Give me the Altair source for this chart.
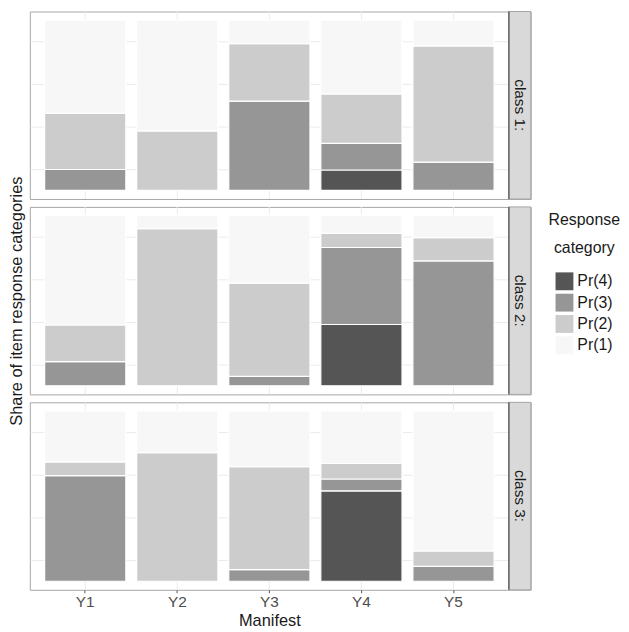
import altair as alt
import pandas as pd

items = ["Y1", "Y2", "Y3", "Y4", "Y5"]
classes = ["class 1:", "class 2:", "class 3:"]
categories = ["Pr(4)", "Pr(3)", "Pr(2)", "Pr(1)"]
colors = ["#555555", "#969696", "#cccccc", "#f7f7f7"]

class1_pr4 = [0.0, 0.0, 0.0, 0.12, 0.0]
class1_pr3 = [0.123, 0.0, 0.524, 0.156, 0.166]
class1_pr2 = [0.33, 0.35, 0.337, 0.29, 0.682]
class1_pr1 = [0.547, 0.65, 0.139, 0.434, 0.152]

class2_pr4 = [0.0, 0.0, 0.0, 0.36, 0.0]
class2_pr3 = [0.142, 0.0, 0.056, 0.452, 0.733]
class2_pr2 = [0.215, 0.923, 0.546, 0.083, 0.137]
class2_pr1 = [0.643, 0.077, 0.398, 0.105, 0.13]

class3_pr4 = [0.0, 0.0, 0.0, 0.531, 0.0]
class3_pr3 = [0.62, 0.0, 0.068, 0.069, 0.087]
class3_pr2 = [0.081, 0.755, 0.604, 0.091, 0.091]
class3_pr1 = [0.299, 0.245, 0.328, 0.309, 0.822]

class_data = {
    "class 1:": [class1_pr4, class1_pr3, class1_pr2, class1_pr1],
    "class 2:": [class2_pr4, class2_pr3, class2_pr2, class2_pr1],
    "class 3:": [class3_pr4, class3_pr3, class3_pr2, class3_pr1],
}

grid_vals = [0.125, 0.375, 0.625, 0.875]
FONT = "Liberation Sans"
PW, PH, SW = 483, 189, 22

rows = []
for cl in classes:
    for ci, cat in enumerate(categories):
        for ii, it in enumerate(items):
            rows.append({"class": cl, "item": it, "cat": cat, "rank": ci,
                         "value": class_data[cl][ci][ii]})
df = pd.DataFrame(rows)
idf = pd.DataFrame({"item": items})


def panel(cl, idx):
    bottom = idx == len(classes) - 1
    middle = idx == 1
    xscale = alt.Scale(paddingInner=0.118, paddingOuter=0.161, range=[0, PW])
    if bottom:
        xaxis = alt.Axis(title="Manifest", labelAngle=0, bandPosition=0.5,
                         grid=False, domain=False,
                         ticks=True, tickSize=3, tickColor="#555555",
                         labelColor="#4d4d4d", labelFontSize=15.5, labelPadding=2,
                         titleFontSize=16.5, titleFontWeight="normal", titleColor="#1a1a1a",
                         titlePadding=2, labelFont=FONT, titleFont=FONT)
    else:
        xaxis = None
    yaxis = alt.Axis(title="Share of item response categories" if middle else None,
                     values=grid_vals, labels=False, ticks=False, domain=False,
                     grid=True, gridColor="#ebebeb", titleFontSize=16.5,
                     titleFontWeight="normal", titleColor="#1a1a1a", titleFont=FONT,
                     titlePadding=5, minExtent=0)
    vgrid = alt.Chart(idf).mark_rule(color="#ebebeb", strokeWidth=1).encode(
        x=alt.X("item:N", sort=items, scale=xscale, axis=xaxis),
        y=alt.value(0), y2=alt.value(PH))
    bars = alt.Chart(df[df["class"] == cl]).mark_bar(
        stroke="white", strokeWidth=1.2
    ).encode(
        x=alt.X("item:N", sort=items, scale=xscale, axis=xaxis),
        y=alt.Y("value:Q", stack="zero", axis=yaxis,
                scale=alt.Scale(domain=[-0.05, 1.05], nice=False, zero=False)),
        color=alt.Color("cat:N", sort=categories,
                        scale=alt.Scale(domain=categories, range=colors),
                        legend=alt.Legend(title=["Response", "category"],
                                          titleFontSize=16, titleFontWeight="normal",
                                          titleColor="#1a1a1a", titleFont=FONT,
                                          titleLineHeight=28, titleAlign="center",
                                          titleAnchor="middle", titlePadding=17,
                                          labelFontSize=16, labelColor="#1a1a1a",
                                          labelFont=FONT, symbolType="square",
                                          symbolSize=324, symbolStrokeWidth=0,
                                          rowPadding=3.5, labelOffset=4,
                                          orient="none", legendX=523, legendY=202)),
        order=alt.Order("rank:Q", sort="ascending"),
    )

    sdf = pd.DataFrame({"label": [cl]})
    strip_rect = alt.Chart(sdf).mark_rect(
        fill="#d9d9d9", stroke="#a6a6a6", strokeWidth=1
    ).encode(x=alt.value(PW), x2=alt.value(PW + SW), y=alt.value(0), y2=alt.value(PH))
    strip_line = alt.Chart(sdf).mark_rule(color="#333333", strokeWidth=1).encode(
        x=alt.value(PW), y=alt.value(0), y2=alt.value(PH))
    strip_text = alt.Chart(sdf).mark_text(
        angle=90, fontSize=15.5, font=FONT, color="#1a1a1a"
    ).encode(text="label:N", x=alt.value(PW + SW / 2), y=alt.value(PH / 2))
    return alt.layer(vgrid, bars, strip_rect, strip_line, strip_text).properties(
        width=PW + SW, height=PH)


chart = alt.vconcat(*[panel(cl, i) for i, cl in enumerate(classes)],
                    spacing=8, bounds="flush").properties(
    padding={"left": 0, "top": 0, "right": 0, "bottom": 0}
).configure(font=FONT).configure_view(stroke="#a6a6a6", strokeWidth=1)

chart.save("out.html", embed_options={"renderer": "svg", "actions": False})
